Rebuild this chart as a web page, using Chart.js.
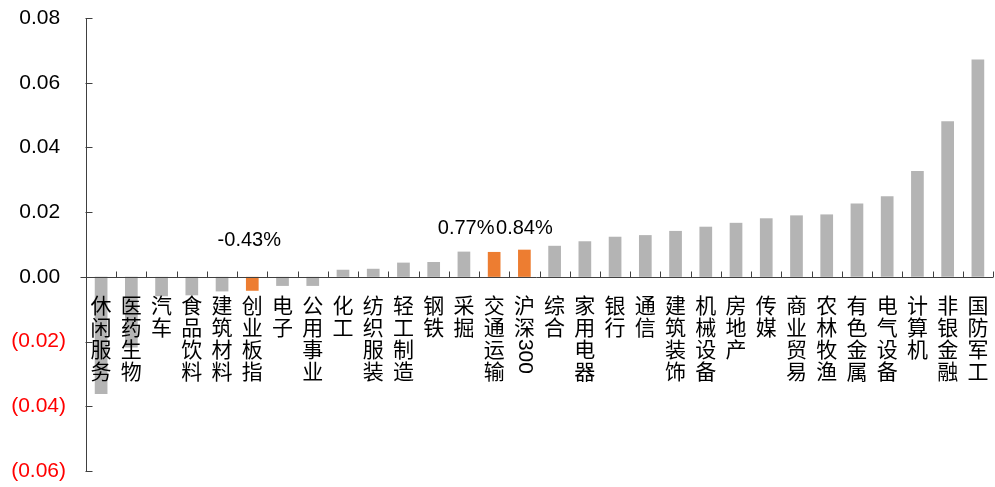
<!DOCTYPE html>
<html>
<head>
<meta charset="utf-8">
<script src="https://cdn.jsdelivr.net/npm/chart.js@4"></script>
<style>
  html, body { margin: 0; padding: 0; background: #fff; }
  #wrap { width: 995px; height: 487px; position: relative; }
</style>
</head>
<body>
<div id="wrap"><canvas id="sectorChart"></canvas></div>
<script>
// categories, sorted ascending by weekly return
const categories = ['休闲服务', '医药生物', '汽车', '食品饮料', '建筑材料', '创业板指', '电子', '公用事业',
    '化工', '纺织服装', '轻工制造', '钢铁', '采掘', '交通运输', '沪深300', '综合', '家用电器', '银行',
    '通信', '建筑装饰', '机械设备', '房地产', '传媒', '商业贸易', '农林牧渔', '有色金属', '电气设备',
    '计算机', '非银金融', '国防军工'];
const values = [-0.0362, -0.0218, -0.0060, -0.0057, -0.0045, -0.0043, -0.0028, -0.0028,
    0.0022, 0.0025, 0.0044, 0.0046, 0.0078, 0.0077, 0.0084, 0.0096, 0.0110, 0.0124,
    0.0129, 0.0142, 0.0155, 0.0167, 0.0181, 0.0190, 0.0193, 0.0227, 0.0249,
    0.0327, 0.0481, 0.0672];
const highlighted = ['创业板指', '交通运输', '沪深300'];
const labelCats = ['创业板指', '交通运输', '沪深300'];
const labelTexts = ['-0.43%', '0.77%', '0.84%'];
const yTicks = [-0.06, -0.04, -0.02, 0, 0.02, 0.04, 0.06, 0.08];

const GRAY = '#b4b4b4';
const ORANGE = '#ed7d31';
const AXIS = '#404040';
const LATIN = "'Liberation Sans', Arial, sans-serif";
const CJK = "'Noto Sans CJK SC', sans-serif";

// manual nudges for the value labels (pixels), like the hand-placed labels in the source
const labelNudge = { '创业板指': [-3, -37], '交通运输': [-28, -49], '沪深300': [0, -49] };

const overlay = {
    id: 'overlay',
    afterDraw(chart) {
        const { ctx, chartArea } = chart;
        const xs = chart.scales.x;
        const ys = chart.scales.y;
        const zeroY = Math.round(ys.getPixelForValue(0)) + 0.5;
        const left = Math.round(chartArea.left) + 0.5;
        const step = xs.getPixelForValue(1) - xs.getPixelForValue(0);

        ctx.save();
        ctx.strokeStyle = AXIS;
        ctx.lineWidth = 1;

        // y axis line + inside ticks
        ctx.beginPath();
        ctx.moveTo(left, ys.getPixelForValue(yTicks[yTicks.length - 1]));
        ctx.lineTo(left, ys.getPixelForValue(yTicks[0]));
        yTicks.forEach(v => {
            const py = Math.round(ys.getPixelForValue(v)) + 0.5;
            ctx.moveTo(left - 1, py);
            ctx.lineTo(left + 6, py);
        });
        ctx.stroke();

        // category axis at zero + upward ticks between categories
        ctx.beginPath();
        ctx.moveTo(left - 6, zeroY);
        ctx.lineTo(chartArea.right, zeroY);
        for (let i = 0; i <= categories.length; i++) {
            const px = Math.round(xs.getPixelForValue(i) - step / 2) + 0.5;
            ctx.moveTo(px, zeroY);
            ctx.lineTo(px, zeroY - 6);
        }
        ctx.stroke();

        // vertical category labels, one character per line
        ctx.fillStyle = '#000';
        ctx.textAlign = 'center';
        ctx.textBaseline = 'middle';
        categories.forEach((name, i) => {
            const cx = xs.getPixelForValue(i);
            let cy = zeroY + 28;
            const parts = name.match(/[0-9]+|./g);
            parts.forEach(p => {
                if (/^[0-9]+$/.test(p)) {
                    ctx.save();
                    ctx.font = '21px ' + LATIN;
                    const w = ctx.measureText(p).width;
                    ctx.translate(cx, cy - 10);
                    ctx.rotate(Math.PI / 2);
                    ctx.textAlign = 'left';
                    ctx.fillText(p, 0, 0);
                    ctx.restore();
                    cy += w;
                } else {
                    ctx.font = '21px ' + CJK;
                    ctx.fillText(p, cx, cy);
                    cy += 21.7;
                }
            });
        });

        // value labels
        ctx.font = '20px ' + LATIN;
        ctx.fillStyle = '#000';
        labelCats.forEach((name, k) => {
            const i = categories.indexOf(name);
            const [dx, dy] = labelNudge[name] || [0, -40];
            ctx.fillText(labelTexts[k], xs.getPixelForValue(i) + dx, zeroY + dy);
        });
        ctx.restore();
    }
};

new Chart(document.getElementById('sectorChart'), {
    type: 'bar',
    data: {
        labels: categories,
        datasets: [{
            data: values,
            backgroundColor: categories.map(c => highlighted.includes(c) ? ORANGE : GRAY),
            borderWidth: 0,
            barPercentage: 0.42,
            categoryPercentage: 1
        }]
    },
    options: {
        responsive: true,
        maintainAspectRatio: false,
        animation: false,
        layout: { padding: { top: 18, bottom: 16, right: 2, left: 0 } },
        plugins: { legend: { display: false }, tooltip: { enabled: false } },
        scales: {
            x: { display: false },
            y: {
                min: -0.06,
                max: 0.08,
                afterFit: scale => {
                    scale.width = 86;
                    scale.paddingTop = 0;
                    scale.paddingBottom = 0;
                },
                afterBuildTicks: scale => { scale.ticks = yTicks.map(v => ({ value: v })); },
                grid: { display: false, drawTicks: false },
                border: { display: false },
                ticks: {
                    padding: 20,
                    font: { family: LATIN, size: 21 },
                    color: ctx => ctx.tick.value < -1e-9 ? '#ff0000' : '#000000',
                    callback: v => {
                        if (v < -1e-9) return '(' + Math.abs(v).toFixed(2) + ')';
                        return Math.abs(v).toFixed(2) + ' ';
                    }
                }
            }
        }
    },
    plugins: [overlay]
});
</script>
</body>
</html>
